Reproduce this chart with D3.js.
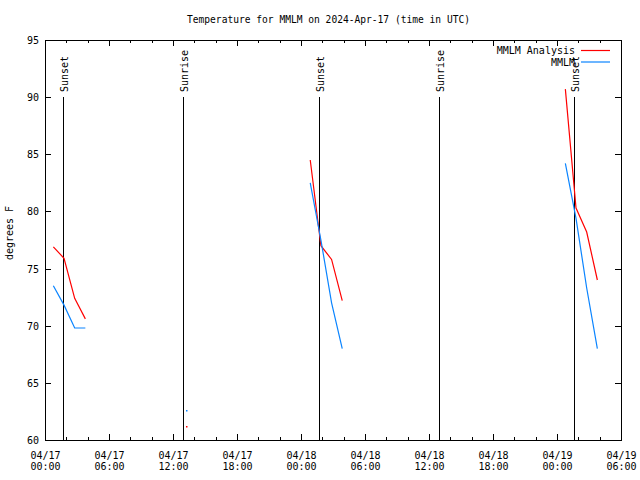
<!DOCTYPE html>
<html>
<head>
<meta charset="utf-8">
<script src="https://cdn.jsdelivr.net/npm/d3@7"></script>
<style>
  body { margin: 0; background: #fff; }
  svg text { font-family: "DejaVu Sans Mono", "Liberation Mono", monospace; font-size: 10px; fill: #000; }
</style>
</head>
<body>
<div class="graphic"></div>
<script>
// observation times (UTC), null values break the line
var times = [
  "2024-04-17 00:47", "2024-04-17 01:47", "2024-04-17 02:47", "2024-04-17 03:47",
  "2024-04-17 08:00",
  "2024-04-17 13:15",
  "2024-04-17 18:00",
  "2024-04-18 00:52", "2024-04-18 01:52", "2024-04-18 02:52", "2024-04-18 03:52",
  "2024-04-18 12:00",
  "2024-04-19 00:47", "2024-04-19 01:47", "2024-04-19 02:47", "2024-04-19 03:47"
];
var analysis = [76.9, 75.9, 72.4, 70.6, null, 61.2, null, 84.5, 77.0, 75.8, 72.2, null, 90.7, 80.3, 78.2, 74.0];
var observed = [73.5, 71.8, 69.8, 69.8, null, 62.6, null, 82.5, 77.5, 72.0, 68.0, null, 84.2, 79.4, 73.3, 68.0];

var sunTimes = ["2024-04-17 01:43", "2024-04-17 12:56", "2024-04-18 01:43", "2024-04-18 12:56", "2024-04-19 01:38"];
var sunLabels = ["Sunset", "Sunrise", "Sunset", "Sunrise", "Sunset"];

var yTicks = [60, 65, 70, 75, 80, 85, 90, 95];
var seriesNames = ["MMLM Analysis", "MMLM"];
var seriesColors = ["#ff0000", "#0a84ff"];

var width = 640, height = 480;
var plotLeft = 45, plotRight = 621, plotTop = 40, plotBottom = 440;

var parse = d3.utcParse("%Y-%m-%d %H:%M");

var x = d3.scaleUtc()
  .domain([parse("2024-04-17 00:00"), parse("2024-04-19 06:00")])
  .range([plotLeft, plotRight]);

var y = d3.scaleLinear()
  .domain([60, 95])
  .range([plotBottom, plotTop]);

var svg = d3.select(".graphic")
  .append("svg")
  .attr("width", width)
  .attr("height", height);

// title
svg.append("text")
  .attr("x", 328.5)
  .attr("y", 23)
  .attr("text-anchor", "middle")
  .style("font-size", "9.6px")
  .text("Temperature for MMLM on 2024-Apr-17 (time in UTC)");

// y label
svg.append("text")
  .attr("transform", "translate(13,233) rotate(-90)")
  .attr("text-anchor", "middle")
  .text("degrees F");

var majorX = d3.utcHour.every(6).range(x.domain()[0], d3.utcHour.offset(x.domain()[1], 1));
var minorX = d3.utcHour.every(2).range(x.domain()[0], x.domain()[1]).filter(d => d.getUTCHours() % 6 != 0);

// x axes (bottom with labels, top mirrored)
var xBottom = svg.append("g")
  .attr("transform", `translate(0,${plotBottom})`)
  .call(d3.axisBottom(x).tickValues(majorX).tickSize(-6).tickPadding(9).tickFormat(""));

xBottom.selectAll(".tick text")
  .data(majorX)
  .each(function(d) {
    var t = d3.select(this).attr("dy", null).attr("y", 18.5);
    t.append("tspan").attr("x", 0).text(d3.utcFormat("%m/%d")(d));
    t.append("tspan").attr("x", 0).attr("dy", 11.5).text(d3.utcFormat("%H:%M")(d));
  });

svg.append("g")
  .attr("transform", `translate(0,${plotTop})`)
  .call(d3.axisTop(x).tickValues(majorX).tickSize(-6).tickFormat(""));

svg.append("g")
  .attr("transform", `translate(0,${plotBottom})`)
  .call(d3.axisBottom(x).tickValues(minorX).tickSize(-3).tickFormat(""));
svg.append("g")
  .attr("transform", `translate(0,${plotTop})`)
  .call(d3.axisTop(x).tickValues(minorX).tickSize(-3).tickFormat(""));

// y axes
svg.append("g")
  .attr("transform", `translate(${plotLeft},0)`)
  .call(d3.axisLeft(y).tickValues(yTicks).tickSize(-6).tickPadding(6))
  .selectAll(".tick text").attr("dy", "0.35em");

svg.append("g")
  .attr("transform", `translate(${plotRight},0)`)
  .call(d3.axisLeft(y).tickValues(yTicks).tickSize(6).tickFormat(""));

svg.selectAll(".domain").remove();
svg.selectAll(".tick line").attr("stroke", "#000").attr("shape-rendering", "crispEdges");
svg.selectAll(".tick text").style("font-size", "10px").style("font-family", "DejaVu Sans Mono");

// border
svg.append("rect")
  .attr("x", plotLeft)
  .attr("y", plotTop)
  .attr("width", plotRight - plotLeft)
  .attr("height", plotBottom - plotTop)
  .attr("fill", "none")
  .attr("stroke", "#000")
  .attr("shape-rendering", "crispEdges");

// sunrise / sunset markers
var sun = svg.append("g").selectAll("g")
  .data(sunTimes.map((t, i) => ({ time: parse(t), label: sunLabels[i] })))
  .join("g");

sun.append("line")
  .attr("x1", d => Math.round(x(d.time)) + 0.5)
  .attr("x2", d => Math.round(x(d.time)) + 0.5)
  .attr("y1", 97)
  .attr("y2", plotBottom)
  .attr("stroke", "#000");

sun.append("text")
  .attr("transform", d => `translate(${Math.round(x(d.time)) + 4.5},92) rotate(-90)`)
  .attr("text-anchor", "start")
  .text(d => d.label);

// series
var series = [analysis, observed].map((vals, k) => ({
  name: seriesNames[k],
  color: seriesColors[k],
  points: times.map((t, i) => ({ time: parse(t), value: vals[i] }))
}));

var line = d3.line()
  .defined(d => d.value != null)
  .x(d => x(d.time))
  .y(d => y(d.value));

svg.append("g").selectAll("path")
  .data(series)
  .join("path")
  .attr("d", d => line(d.points))
  .attr("fill", "none")
  .attr("stroke", d => d.color)
  .attr("stroke-width", 1.2);

// lone points (no neighbour on either side)
series.forEach(s => {
  var lone = s.points.filter((p, i, a) =>
    p.value != null && (i == 0 || a[i - 1].value == null) && (i == a.length - 1 || a[i + 1].value == null));
  svg.append("g").selectAll("rect")
    .data(lone)
    .join("rect")
    .attr("x", d => Math.round(x(d.time)))
    .attr("y", d => Math.round(y(d.value)))
    .attr("width", 1.5)
    .attr("height", 1.5)
    .attr("fill", s.color);
});

// legend
var legend = svg.append("g").selectAll("g")
  .data(series)
  .join("g")
  .attr("transform", (d, i) => `translate(0,${50.5 + i * 11.5})`);

legend.append("text")
  .attr("x", 575)
  .attr("y", 3.5)
  .attr("text-anchor", "end")
  .text(d => d.name);

legend.append("line")
  .attr("x1", 581)
  .attr("x2", 610)
  .attr("stroke", d => d.color)
  .attr("stroke-width", 1.2);
</script>
</body>
</html>
